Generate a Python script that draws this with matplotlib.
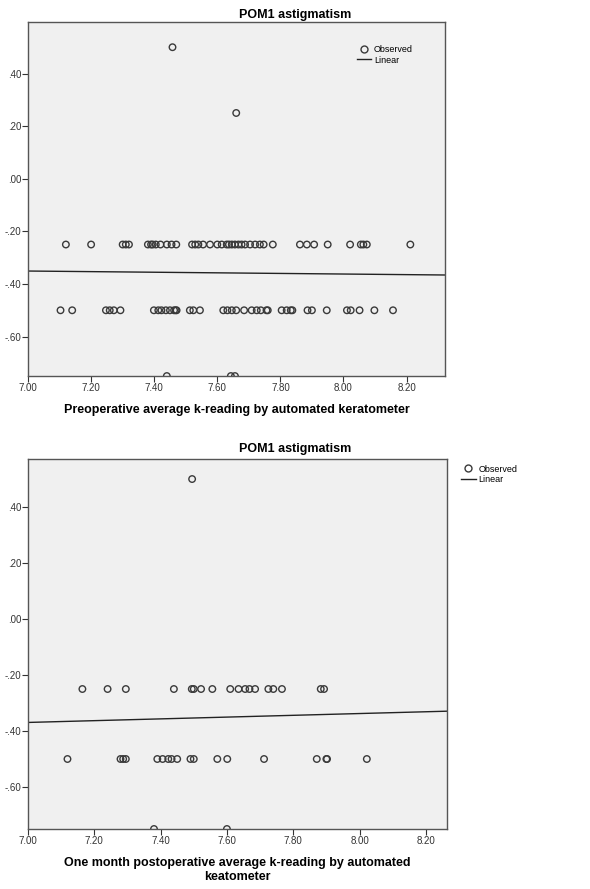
import matplotlib
matplotlib.use("Agg")
from matplotlib import pyplot as plt
from matplotlib.lines import Line2D
import numpy as np

plt.rcParams['font.family'] = ['Liberation Sans', 'DejaVu Sans']

# --- top chart: preoperative k-reading vs POM1 astigmatism ---
pre_x_025 = [7.12, 7.20, 7.30, 7.31, 7.32, 7.38, 7.39, 7.395, 7.405, 7.42, 7.44,
             7.455, 7.47, 7.52, 7.53, 7.54, 7.555, 7.577, 7.60, 7.614, 7.63, 7.637,
             7.646, 7.656, 7.667, 7.677, 7.688, 7.704, 7.72, 7.735, 7.747, 7.776,
             7.862, 7.884, 7.907, 7.95, 8.021, 8.055, 8.063, 8.074, 8.212]
pre_x_050 = [7.103, 7.14, 7.247, 7.259, 7.272, 7.293, 7.399, 7.413, 7.423, 7.437,
             7.45, 7.463, 7.468, 7.471, 7.513, 7.524, 7.545, 7.619, 7.632, 7.646,
             7.66, 7.685, 7.709, 7.725, 7.738, 7.756, 7.76, 7.804, 7.82, 7.833,
             7.838, 7.886, 7.90, 7.947, 8.011, 8.023, 8.051, 8.098, 8.157]
pre_x_other = [7.458, 7.66, 7.44, 7.643, 7.656]
pre_y_other = [0.50, 0.25, -0.75, -0.75, -0.75]
pre_line = (-0.271, -0.0114)   # intercept, slope

# --- bottom chart: one month postoperative k-reading ---
post_x_025 = [7.164, 7.24, 7.295, 7.44, 7.494, 7.50, 7.522, 7.556, 7.61, 7.635,
              7.655, 7.668, 7.685, 7.725, 7.74, 7.766, 7.883, 7.893]
post_x_050 = [7.119, 7.279, 7.287, 7.295, 7.39, 7.406, 7.423, 7.433, 7.45, 7.49,
              7.50, 7.571, 7.601, 7.712, 7.871, 7.90, 7.902, 8.022]
post_x_other = [7.495, 7.38, 7.60]
post_y_other = [0.50, -0.75, -0.75]
post_line = (-0.592, 0.0318)

title = "POM1 astigmatism"
yticks = [0.4, 0.2, 0.0, -0.2, -0.4, -0.6]
ylabels = [".40", ".20", ".00", "-.20", "-.40", "-.60"]
xticks = [7.0, 7.2, 7.4, 7.6, 7.8, 8.0, 8.2]
xlabels = ["7.00", "7.20", "7.40", "7.60", "7.80", "8.00", "8.20"]

fig = plt.figure(figsize=(5.9, 8.89), dpi=100)
fig.patch.set_facecolor("white")

def panel(rect, x25, x50, xo, yo, line, xlim, ylim, xlabel, legend_anchor):
    ax = fig.add_axes(rect)
    ax.set_facecolor("#f0f0f0")
    xs = np.concatenate([x25, x50, xo])
    ys = np.concatenate([np.full(len(x25), -0.25), np.full(len(x50), -0.5), yo])
    ax.scatter(xs, ys, s=22, facecolors="none", edgecolors="#3a3a3a",
               linewidths=1.0, zorder=3)
    lx = np.array(xlim)
    ax.plot(lx, line[0] + line[1] * lx, color="#222222", lw=1.0, zorder=2)
    ax.set_xlim(*xlim)
    ax.set_ylim(*ylim)
    ax.set_xticks(xticks)
    ax.set_xticklabels(xlabels)
    ax.set_yticks(yticks)
    ax.set_yticklabels(ylabels)
    ax.tick_params(labelsize=7, colors="#333333", length=4, width=0.8, pad=1)
    for s in ax.spines.values():
        s.set_color("#555555")
        s.set_linewidth(1.0)
    ax.set_xlabel(xlabel, fontsize=9, fontweight="bold", labelpad=8)
    handles = [Line2D([], [], marker="o", ls="none", mfc="none", mec="#3a3a3a",
                      ms=5, label="Observed"),
               Line2D([], [], color="#222222", lw=1.0, label="Linear")]
    ax.legend(handles=handles, loc="upper left", bbox_to_anchor=legend_anchor,
              frameon=False, fontsize=6.5, handlelength=1.6, handletextpad=0.3,
              labelspacing=0.15, borderaxespad=0)
    return ax

ax1 = panel([0.0475, 0.577, 0.7068, 0.398], pre_x_025, pre_x_050, pre_x_other,
            pre_y_other, pre_line, (7.0, 8.322), (-0.75, 0.595),
            "Preoperative average k-reading by automated keratometer",
            (0.78, 0.945))
fig.text(0.5, 0.983, title, ha="center", va="center", fontsize=9, fontweight="bold")

ax2 = panel([0.0475, 0.0675, 0.7102, 0.416], post_x_025, post_x_050, post_x_other,
            post_y_other, post_line, (7.0, 8.264), (-0.75, 0.571),
            "One month postoperative average k-reading by automated\nkeatometer",
            (1.025, 0.995))
ax2.xaxis.label.set_linespacing(1.2)
fig.text(0.5, 0.4945, title, ha="center", va="center", fontsize=9, fontweight="bold")

fig.savefig("out.png", dpi=100)
